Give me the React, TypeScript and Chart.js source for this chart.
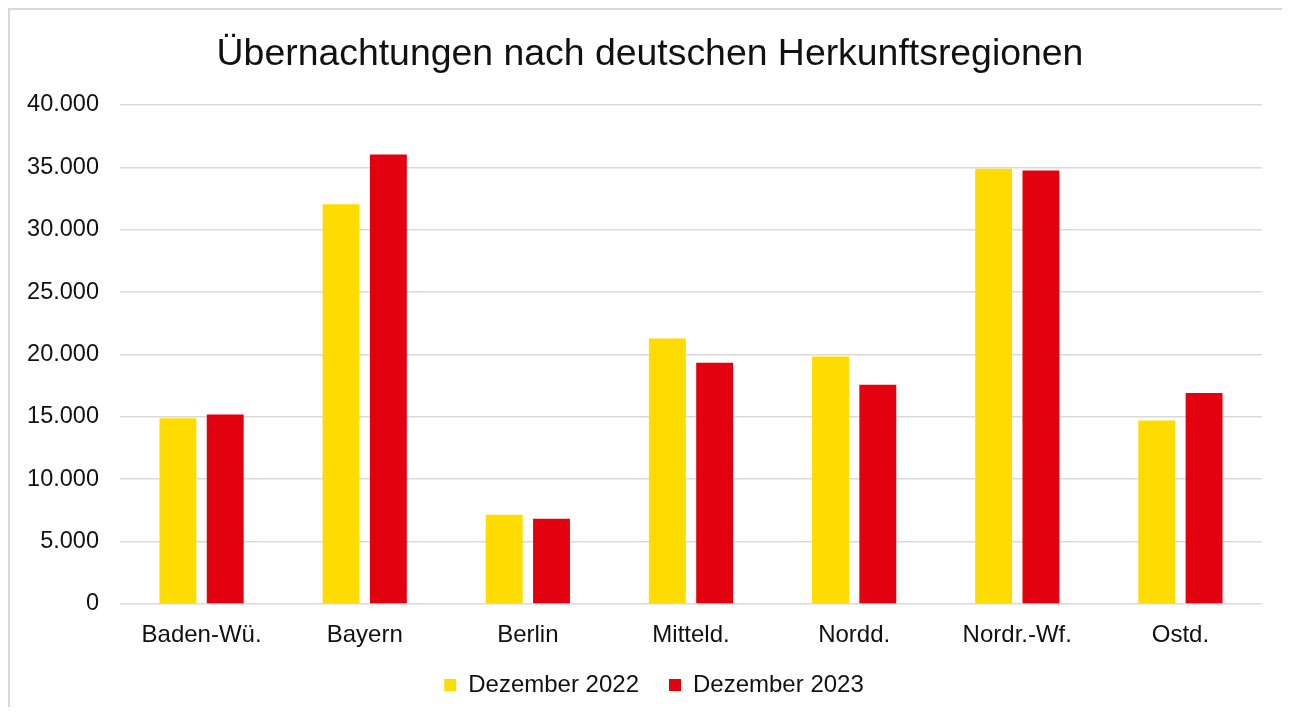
import React, { useEffect, useRef } from "react";
import { Chart, registerables } from "chart.js";

Chart.register(...registerables);

const categories = ["Baden-Wü.", "Bayern", "Berlin", "Mitteld.", "Nordd.", "Nordr.-Wf.", "Ostd."];
const series2022 = [14880, 32030, 7150, 21280, 19840, 34880, 14700];
const series2023 = [15180, 36030, 6830, 19340, 17580, 34750, 16910];
const seriesLabels = ["Dezember 2022", "Dezember 2023"];
const titleText = "Übernachtungen nach deutschen Herkunftsregionen";

const FONT = "'Liberation Sans', Arial, sans-serif";

function fmt(v: number): string {
  const s = Math.round(v).toString();
  return s.replace(/\B(?=(\d{3})+(?!\d))/g, ".");
}

// Nudge title/legend boxes so they are centred like the reference (which centres over a wider area)
const boxNudge = {
  id: "boxNudge",
  afterLayout(chart: any) {
    const t = chart.titleBlock;
    if (t) {
      t.left += 14;
      t.right += 14;
    }
    const l = chart.legend;
    if (l) {
      l.left += 18;
      l.right += 18;
      l.top -= 5;
      l.bottom -= 5;
    }
  },
};

export default function App() {
  const ref = useRef<HTMLCanvasElement | null>(null);
  useEffect(() => {
    if (!ref.current) return;
    const chart = new Chart(ref.current, {
      type: "bar",
      data: {
        labels: categories,
        datasets: [
          { label: seriesLabels[0], data: series2022, backgroundColor: "#FFDC00", categoryPercentage: 0.58, barPercentage: 0.78 },
          { label: seriesLabels[1], data: series2023, backgroundColor: "#E3000F", categoryPercentage: 0.58, barPercentage: 0.78 },
        ],
      },
      plugins: [boxNudge],
      options: {
        responsive: false,
        animation: false,
        maintainAspectRatio: false,
        layout: { padding: { left: 0, right: 20, top: 0, bottom: 0 } },
        plugins: {
          title: {
            display: true,
            text: titleText,
            color: "#111",
            font: { family: FONT, size: 37.4, weight: "normal" },
            padding: { top: 22, bottom: 28 },
          },
          legend: {
            position: "bottom",
            maxHeight: 59,
            labels: {
              color: "#111",
              font: { family: FONT, size: 24 },
              boxWidth: 12,
              boxHeight: 12,
              padding: 30,
            },
          },
          tooltip: { enabled: false },
        },
        scales: {
          x: {
            grid: { display: false, drawTicks: false },
            border: { display: false },
            ticks: { color: "#111", font: { family: FONT, size: 24 }, padding: 17, maxRotation: 0 },
            afterFit: (scale: any) => {
              scale.height = 44;
            },
          },
          y: {
            min: 0,
            max: 40000,
            grid: { color: "#d9d9d9", lineWidth: 1.5, drawTicks: false },
            border: { display: false },
            ticks: {
              stepSize: 5000,
              color: "#111",
              font: { family: FONT, size: 23.5 },
              padding: 21,
              callback: (v: any) => fmt(Number(v)),
            },
            afterFit: (scale: any) => {
              scale.width = 110;
            },
          },
        },
      },
    });
    return () => chart.destroy();
  }, []);
  return (
    <div
      style={{
        width: 1274,
        height: 699,
        borderTop: "2px solid #d9d9d9",
        borderLeft: "2px solid #d9d9d9",
        boxSizing: "border-box",
        overflow: "hidden",
      }}
    >
      <canvas ref={ref} width={1272} height={697} style={{ display: "block" }} />
    </div>
  );
}
